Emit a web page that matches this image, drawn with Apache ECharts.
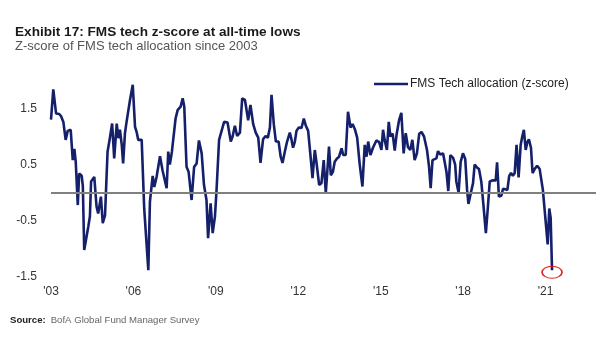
<!DOCTYPE html>
<html>
<head>
<meta charset="utf-8">
<script src="https://cdn.jsdelivr.net/npm/echarts@6/dist/echarts.min.js"></script>
<style>html,body{margin:0;padding:0;background:#fff;}#c{width:605px;height:341px;}</style>
</head>
<body>
<div id="c"></div>
<script>
// months since Jan 2003
const months = [0,1.0,2.2,3.6,4.4,5.4,6.4,7.3,8.6,9.5,10.2,10.8,11.7,12.3,13.4,13.9,14.5,16.3,17.0,17.5,18.9,19.9,20.6,21.4,21.8,22.6,23.6,24.7,25.7,26.7,27.6,28.7,29.4,30.1,30.9,31.5,32.3,33.0,34.5,35.7,36.7,37.4,38.1,38.8,39.6,40.7,41.5,42.5,43.2,44.4,45.1,46.1,47.6,48.7,50.5,51.2,51.9,52.8,54.4,55.3,56.6,57.5,58.2,59.2,60.1,61.4,62.5,63.6,64.6,65.8,66.8,67.9,68.6,69.7,70.6,71.6,72.3,73.4,74.2,75.6,77.1,78.5,79.3,80.3,81.3,82.5,83.5,84.7,86.1,87.1,88.3,89.4,90.5,91.5,92.6,93.7,94.7,95.6,96.3,97.3,98.2,99.4,100.3,101.1,102.1,103.1,104.3,105.0,105.7,106.5,107.2,108.2,109.4,110.4,111.3,112.3,113.5,114.2,115.2,115.9,117.1,118.1,119.1,120.0,120.7,121.4,122.2,123.1,123.9,124.9,125.8,126.9,127.6,128.7,129.7,130.8,131.7,132.7,133.7,134.8,136.0,137.0,137.8,138.5,139.5,140.6,142.1,143.3,144.3,145.0,145.7,146.7,147.5,148.2,149.2,150.1,150.9,152.0,153.0,154.0,154.9,155.9,156.9,157.8,158.8,159.8,160.8,161.8,162.9,164.2,165.1,165.8,166.6,167.3,168.3,169.0,170.0,171.2,171.9,172.7,173.5,174.4,175.6,176.5,177.0,178.0,178.9,179.9,180.9,181.7,182.3,183.1,184.3,185.0,186.0,186.9,187.9,188.8,189.9,190.8,191.6,193.0,194.2,194.8,195.6,196.7,197.4,198.4,199.3,200.1,200.9,201.7,202.5,203.3,204.2,205.1,205.8,206.5,207.3,208.0,208.7,209.6,210.3,211.2,212.3,213.4,214.1,214.8,215.6,216.2,216.9,217.6,218.2,218.8];
const zscore = [1.30,1.84,1.41,1.40,1.36,1.26,0.94,1.10,1.12,0.58,0.78,0.55,-0.22,0.34,0.30,0.12,-1.02,-0.60,-0.42,0.20,0.28,-0.25,-0.37,-0.37,-0.07,-0.54,-0.40,0.73,0.97,1.23,0.61,1.23,0.97,1.12,0.85,0.52,1.06,1.26,1.65,1.92,1.17,1.08,0.94,0.93,0.94,-0.28,-0.26,-1.38,-0.16,0.30,0.10,0.28,0.65,0.40,0.08,0.73,0.50,0.73,1.32,1.47,1.53,1.68,1.53,0.46,0.37,-0.13,0.46,0.52,0.93,0.70,0.14,-0.13,-0.81,-0.19,-0.72,-0.42,0.05,0.94,0.93,1.26,1.25,0.91,1.00,1.19,1.01,1.07,1.68,1.65,1.29,1.56,1.22,1.07,0.98,0.53,0.95,1.01,0.98,1.16,1.74,1.22,0.91,0.91,0.64,0.53,0.73,0.91,1.07,0.95,0.80,0.91,1.10,1.16,1.15,1.32,1.19,1.10,0.58,0.26,0.76,0.55,0.14,0.17,0.58,-0.01,0.40,0.82,0.31,0.37,0.55,0.61,0.64,0.79,0.67,0.67,1.44,1.16,1.22,1.13,0.98,0.51,0.11,0.85,0.64,0.91,0.67,0.80,0.93,0.90,0.76,1.12,0.94,0.76,1.26,1.00,1.05,0.75,1.03,1.29,1.42,0.70,1.06,0.81,0.76,0.94,0.58,0.70,1.05,1.08,1.00,0.76,0.46,0.08,0.58,0.55,0.61,0.74,0.68,0.70,0.55,0.37,0.03,0.67,0.62,0.50,0.20,0.00,0.55,0.70,0.60,0.05,-0.20,-0.05,0.17,0.50,0.45,0.42,0.20,-0.20,-0.72,-0.25,0.20,0.22,0.22,0.54,-0.07,-0.05,0.07,0.06,0.05,0.30,0.35,0.30,0.35,0.85,0.27,0.85,1.00,1.12,0.76,0.90,0.95,0.80,0.35,0.42,0.48,0.42,0.40,0.05,-0.32,-0.30,-0.92,-0.28,-0.45,-1.38];
const yearLabels = ["'03","'06","'09","'12","'15","'18","'21"];
const yLabelValues = [-1.5, -0.5, 0.5, 1.5];
const seriesName = 'FMS Tech allocation (z-score)';

const data = months.map((m, i) => [m, zscore[i]]);
const last = data[data.length - 1];
const FONT = "'Liberation Sans', Arial, sans-serif";

const chart = echarts.init(document.getElementById('c'), null, {renderer: 'canvas'});
chart.setOption({
  backgroundColor: '#fff',
  animation: false,
  title: [
    {text: 'Exhibit 17: FMS tech z-score at all-time lows', left: 10, top: 20,
     textStyle: {fontFamily: FONT, fontSize: 13.6, fontWeight: 'bold', color: '#1a1a1a'}},
    {text: 'Z-score of FMS tech allocation since 2003', left: 10, top: 35,
     textStyle: {fontFamily: FONT, fontSize: 13, fontWeight: 'normal', color: '#555'}},
    {text: '{b|Source:} {r|BofA Global Fund Manager Survey}', left: 5, top: 306,
     textStyle: {fontWeight: 'normal', rich: {
       b: {fontFamily: FONT, fontSize: 9.6, fontWeight: 'bold', color: '#222'},
       r: {fontFamily: FONT, fontSize: 9.6, fontWeight: 'normal', color: '#666'}
     }}}
  ],
  legend: {
    data: [seriesName], left: 369, top: 73, icon: 'rect', itemWidth: 34, itemHeight: 2.5, itemGap: 0,
    textStyle: {fontFamily: FONT, fontSize: 12, color: '#222', padding: [0,0,0,-3]}
  },
  grid: {left: 51, right: 9, top: 80.3, bottom: 64},
  xAxis: {
    type: 'value', min: 0, max: 238, interval: 36,
    axisLine: {show: false}, axisTick: {show: false}, splitLine: {show: false},
    axisLabel: {margin: 9, fontFamily: FONT, fontSize: 12, color: '#333',
      formatter: v => yearLabels[Math.round(v / 36)] || ''}
  },
  yAxis: {
    type: 'value', min: -1.5, max: 2.0, interval: 0.5,
    axisLine: {show: false}, axisTick: {show: false}, splitLine: {show: false},
    axisLabel: {margin: 14, fontFamily: FONT, fontSize: 12, color: '#333',
      formatter: v => yLabelValues.some(t => Math.abs(t - v) < 1e-6) ? String(v) : ''}
  },
  series: [{
    name: seriesName, type: 'line', data: data, symbol: 'none',
    lineStyle: {color: '#15206b', width: 2.6}, itemStyle: {color: '#15206b'},
    markLine: {silent: true, symbol: 'none', label: {show: false},
      lineStyle: {color: '#808080', width: 2, type: 'solid'}, data: [{yAxis: 0}]},
    markPoint: {silent: true, label: {show: false},
      data: [{coord: last, symbol: 'path://M0,6 A10,6 0 1,0 20,6 A10,6 0 1,0 0,6 Z', symbolSize: [20, 12], symbolOffset: [0, 2],
        itemStyle: {color: 'rgba(0,0,0,0)', borderColor: '#e0201c', borderWidth: 1.3}}]}
  }]
});
</script>
</body>
</html>
